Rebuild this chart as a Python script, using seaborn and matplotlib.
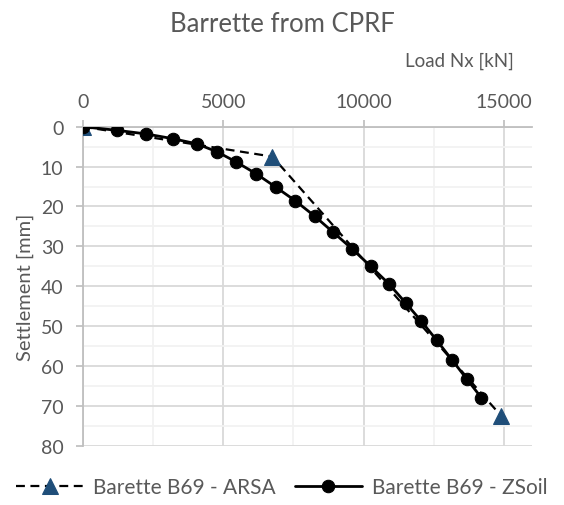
import numpy as np
import pandas as pd
import seaborn as sns
import matplotlib.pyplot as plt
from matplotlib.ticker import MultipleLocator

sns.set_theme(style="white")
plt.rcParams['font.family'] = ['Lato', 'DejaVu Sans']

# === Data ===
arsa_load = [0, 6750, 14900]
arsa_settlement = [0, 7.5, 72.5]

zsoil_load = [0, 1200, 2240, 3200, 4060, 4780, 5450, 6170, 6860, 7570, 8250,
              8920, 9600, 10250, 10900, 11500, 12060, 12610, 13140, 13670, 14200]
zsoil_settlement = [0, 0.9, 1.8, 3.0, 4.3, 6.3, 8.8, 11.8, 15.1, 18.6, 22.4,
                    26.5, 30.7, 35.0, 39.4, 44.2, 48.8, 53.6, 58.4, 63.2, 68.0]

arsa_name = "Barette B69 - ARSA"
zsoil_name = "Barette B69 - ZSoil"

text_color = "#595959"
grid_major = "#d9d9d9"
grid_minor = "#f2f2f2"

df_arsa = pd.DataFrame({"Load": arsa_load, "Settlement": arsa_settlement})
df_zsoil = pd.DataFrame({"Load": zsoil_load, "Settlement": zsoil_settlement})

fig = plt.figure(figsize=(5.64, 5.06), dpi=100)
ax = fig.add_axes([0.1472, 0.1172, 0.796, 0.6304])

# ARSA first so the ZSoil circles sit on top at the origin
sns.lineplot(data=df_arsa, x="Load", y="Settlement", ax=ax, sort=False,
             color="black", linestyle=(0, (4, 2.5)), linewidth=1.6,
             marker="^", markersize=11, markerfacecolor="#1f4e79",
             markeredgecolor="#1f4e79", label=arsa_name, zorder=3)
sns.lineplot(data=df_zsoil, x="Load", y="Settlement", ax=ax, sort=False,
             color="black", linewidth=2, marker="o", markersize=9,
             markerfacecolor="black", markeredgecolor="black",
             label=zsoil_name, zorder=4)

ax.set_xlim(0, 16000)
ax.set_ylim(80, 0)
ax.xaxis.set_major_locator(MultipleLocator(5000))
ax.xaxis.set_minor_locator(MultipleLocator(2500))
ax.yaxis.set_major_locator(MultipleLocator(10))
ax.yaxis.set_minor_locator(MultipleLocator(5))
ax.xaxis.tick_top()

ax.grid(which="major", color=grid_major, linewidth=1.3)
ax.grid(which="minor", color=grid_minor, linewidth=1.3)
ax.set_axisbelow(True)

for s in ["right", "bottom"]:
    ax.spines[s].set_visible(False)
for s in ["left", "top"]:
    ax.spines[s].set_color("#bfbfbf")
    ax.spines[s].set_linewidth(1.3)

ax.tick_params(axis="x", which="major", top=True, bottom=False, length=5,
               color="#bfbfbf", labelsize=14, labelcolor=text_color, pad=7)
ax.tick_params(axis="y", which="major", left=True, length=5,
               color="#bfbfbf", labelsize=14, labelcolor=text_color, pad=9)
ax.tick_params(which="minor", length=0)

ax.set_xlabel("")
ax.set_ylabel("Settlement [mm]", fontsize=14.5, color=text_color, labelpad=5)

fig.text(0.5, 1 - 25 / 506, "Barrette from CPRF", ha="center", va="center",
         fontsize=18.5, color=text_color)
fig.text(514 / 564, 1 - 61 / 506, "Load Nx [kN]", ha="right", va="center",
         fontsize=13.5, color=text_color)

leg = ax.legend(loc="center", bbox_to_anchor=(0.5, 1 - 488 / 506),
                bbox_transform=fig.transFigure, ncol=2, frameon=False,
                fontsize=15, handlelength=3.2, columnspacing=0.9,
                handletextpad=0.5)
for t in leg.get_texts():
    t.set_color(text_color)

fig.savefig("out.png", dpi=100)
